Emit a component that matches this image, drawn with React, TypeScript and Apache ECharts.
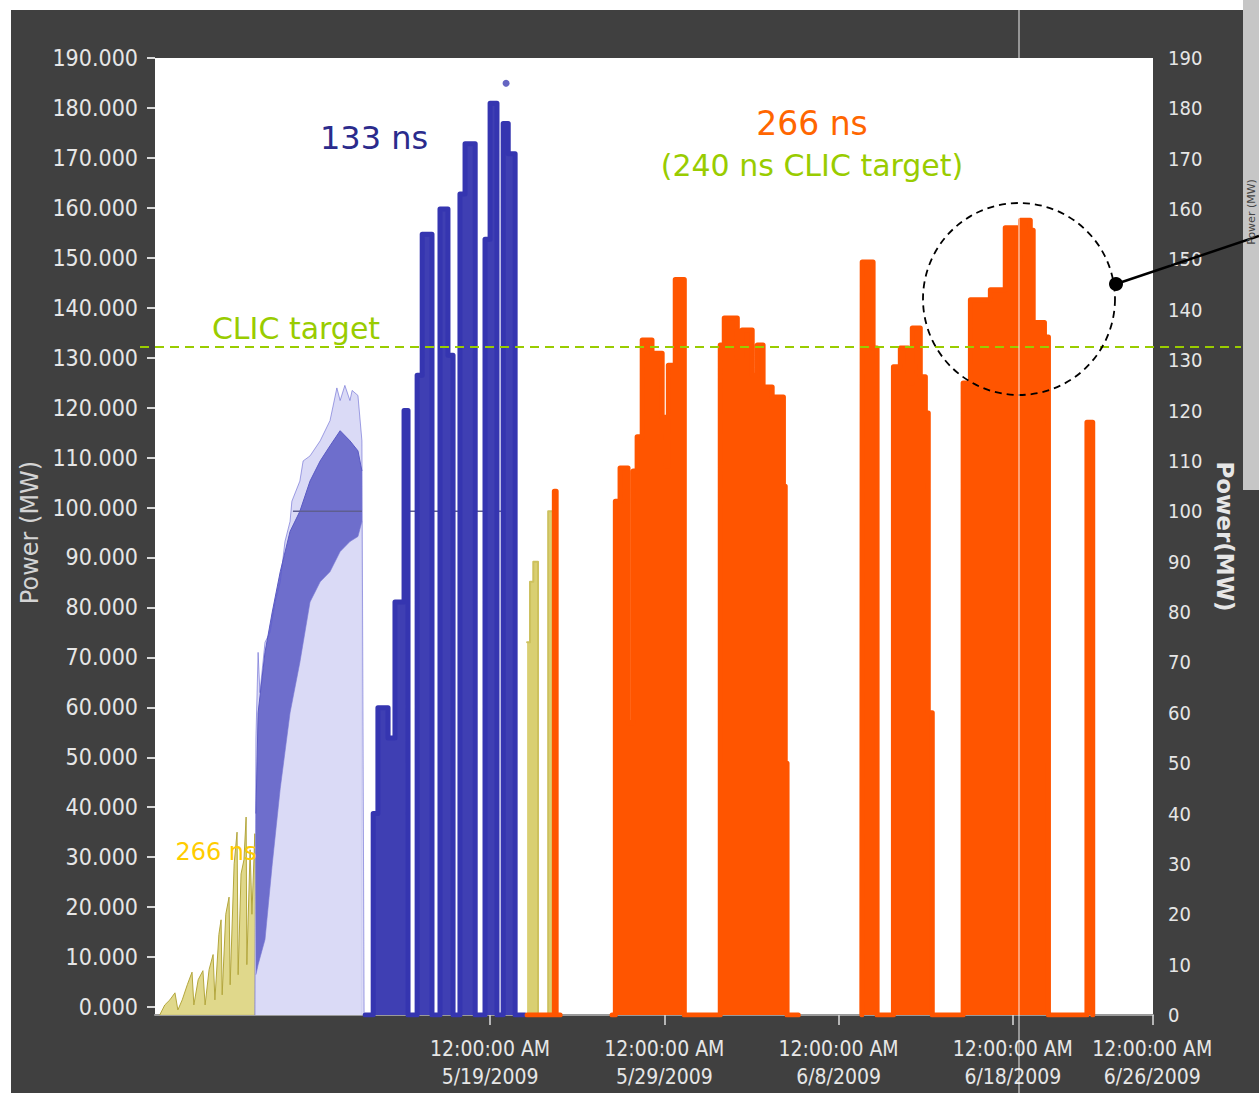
import React, { useEffect, useRef } from "react";
import * as echarts from "echarts";

const W = 1259;
const H = 1096;

// "M/D HH:MM" in 2009, local time
const ts = (s: string): number => {
  const [md, hm] = s.split(" ");
  const [m, d] = md.split("/").map(Number);
  const [h, mi] = hm.split(":").map(Number);
  return new Date(2009, m - 1, d, h, mi).getTime();
};

// Axis extents and ticks
const xStart = "4/29 18:30";
const xEnd = "6/26 01:00";
const dateTicks = ["5/19 00:00", "5/29 00:00", "6/8 00:00", "6/18 00:00", "6/26 00:00"];
const powerMin = 0;
const powerMax = 190;
const powerStep = 10;
const clicTarget = 132.6;

// 266 ns conditioning ramp (early)
const yellowEarly: [string, number][] = [
  ["4/30 01:00", 0], ["4/30 08:00", 2], ["4/30 15:00", 3], ["4/30 22:00", 4.4],
  ["5/1 02:00", 1], ["5/1 08:00", 3], ["5/1 15:00", 6], ["5/1 21:30", 8.5],
  ["5/2 00:00", 2], ["5/2 06:00", 7], ["5/2 12:30", 8.8], ["5/2 15:30", 2],
  ["5/2 21:00", 9], ["5/3 02:30", 12], ["5/3 05:00", 3], ["5/3 10:30", 16],
  ["5/3 13:30", 18.9], ["5/3 15:00", 4], ["5/3 20:00", 20], ["5/4 00:30", 23.4],
  ["5/4 02:00", 6], ["5/4 07:30", 30], ["5/4 11:30", 36.3], ["5/4 13:00", 8],
  ["5/4 17:00", 28], ["5/4 21:00", 30.8], ["5/5 00:00", 39.3], ["5/5 01:00", 10],
  ["5/5 05:30", 32.8], ["5/5 08:00", 20], ["5/5 12:00", 36], ["5/5 15:00", 0],
];

// 133 ns ramp: sparse envelope
const blueSparse: [string, number][] = [
  ["5/5 12:00", 0], ["5/5 13:30", 55], ["5/5 16:30", 72], ["5/5 19:00", 64],
  ["5/6 02:00", 74], ["5/6 09:00", 76], ["5/6 16:00", 82], ["5/6 23:00", 86],
  ["5/7 05:30", 94], ["5/7 12:30", 98], ["5/7 15:00", 102], ["5/8 02:00", 106],
  ["5/8 06:30", 110], ["5/8 16:00", 111], ["5/9 06:00", 114], ["5/9 19:30", 118],
  ["5/10 05:00", 124.5], ["5/10 09:30", 122], ["5/10 16:00", 125], ["5/10 23:00", 122],
  ["5/11 02:00", 124], ["5/11 10:00", 123], ["5/11 15:30", 114], ["5/11 18:30", 0],
];

// 133 ns ramp: dense core band (lower and upper edge)
const coreTimes = [
  "5/5 13:30", "5/5 16:30", "5/6 02:00", "5/6 12:00", "5/6 23:00", "5/7 12:30", "5/8 02:00",
  "5/8 16:00", "5/9 06:00", "5/9 19:30", "5/10 09:30", "5/10 23:00", "5/11 10:00", "5/11 15:30",
];
const coreLow = [8, 10, 15, 30, 45, 60, 70, 82, 86, 88, 92, 94, 95, 98];
const coreHigh = [40, 60, 72, 80, 88, 96, 100, 106, 110, 113, 116, 114, 112, 108];

// 100 MW setpoint trace
const setpoint: [string, number | null][] = [
  ["5/7 16:30", 100], ["5/11 15:30", 100], ["5/11 16:00", null],
  ["5/14 03:00", 100], ["5/20 10:30", 100],
];

// 133 ns operation
const blueRun: [string, number][] = [
  ["5/11 20:00", 0], ["5/12 07:00", 40], ["5/12 13:30", 61], ["5/13 03:30", 55],
  ["5/13 13:00", 82], ["5/14 01:30", 120], ["5/14 07:00", 0], ["5/14 19:30", 127],
  ["5/15 02:30", 155], ["5/15 16:00", 0], ["5/16 03:00", 160], ["5/16 14:00", 131],
  ["5/16 21:00", 0], ["5/17 06:30", 163], ["5/17 13:30", 173], ["5/18 03:30", 0],
  ["5/18 17:00", 154], ["5/19 00:00", 181], ["5/19 09:30", 0], ["5/19 18:00", 177],
  ["5/20 01:00", 171], ["5/20 10:30", 0], ["5/21 00:00", 0],
];
const blueOutliers: [string, number][] = [["5/19 22:00", 185]];

// 266 ns restart
const yellowLate: [string, number][] = [
  ["5/21 03:00", 74], ["5/21 07:00", 86], ["5/21 11:30", 90], ["5/21 18:00", 0],
  ["5/22 08:00", 100], ["5/22 16:00", 0],
];

// 266 ns operation
const orangeRun: [string, number | null][] = [
  ["5/21 03:00", 0], ["5/22 16:30", 104], ["5/22 19:00", 0], ["5/23 00:30", 0], ["5/23 01:00", null],
  ["5/26 00:00", 0], ["5/26 04:30", 102], ["5/26 11:00", 108.6], ["5/26 22:00", 58],
  ["5/27 05:00", 108], ["5/27 10:30", 114.8], ["5/27 17:30", 134], ["5/28 07:00", 131.4],
  ["5/28 21:00", 118.7], ["5/29 02:30", 109], ["5/29 05:30", 129], ["5/29 15:00", 146],
  ["5/30 03:30", 0],
  ["6/1 05:00", 133], ["6/1 10:30", 138.4], ["6/2 04:30", 130.6], ["6/2 11:00", 136],
  ["6/3 01:00", 127], ["6/3 08:00", 133], ["6/3 16:00", 124.7], ["6/4 04:30", 122.7],
  ["6/4 20:00", 105], ["6/4 22:30", 50], ["6/5 01:00", 0], ["6/5 16:30", 0], ["6/5 17:00", null],
  ["6/9 08:00", 0], ["6/9 08:30", 149.5], ["6/9 23:30", 132.4], ["6/10 05:00", 0],
  ["6/11 03:30", 128.7], ["6/11 13:00", 132.4], ["6/12 00:00", 125.5], ["6/12 05:30", 136.4],
  ["6/12 16:30", 126.7], ["6/12 23:30", 119.5], ["6/13 03:30", 60], ["6/13 09:00", 0],
  ["6/15 03:30", 125.5], ["6/15 13:30", 142], ["6/16 17:00", 144], ["6/17 13:30", 156.3],
  ["6/18 06:00", 150], ["6/18 10:30", 157.8], ["6/19 00:00", 155.8], ["6/19 04:00", 137.5],
  ["6/19 19:30", 134.6], ["6/20 01:00", 0],
  ["6/22 06:00", 117.7], ["6/22 14:00", 0],
];

const pts = (arr: [string, number | null][]) => arr.map(([t, v]) => [ts(t), v]);

const AXIS_FONT = '"DejaVu Sans Condensed", "DejaVu Sans", sans-serif';
const NOTE_FONT = '"DejaVu Sans", sans-serif';
const LABEL_COLOR = "#e6e6e6";
const SPARSE_FILL = "#dadaf6";

const pad = (n: number) => (n < 10 ? "0" + n : "" + n);
const fmtDate = (v: number) => {
  const d = new Date(v);
  const h = d.getHours();
  const h12 = h % 12 === 0 ? 12 : h % 12;
  const ap = h < 12 ? "AM" : "PM";
  return `${h12}:${pad(d.getMinutes())}:${pad(d.getSeconds())} ${ap}\n${d.getMonth() + 1}/${d.getDate()}/${d.getFullYear()}`;
};

const stepArea = (name: string, data: any[], fill: string, stroke: string, width: number, z: number) => ({
  type: "line",
  name,
  data,
  step: "end",
  symbol: "none",
  silent: true,
  z,
  itemStyle: { color: fill },
  lineStyle: { color: stroke, width, cap: "round", join: "round" },
  areaStyle: { color: fill, opacity: 1 },
});

const plainArea = (name: string, data: any[], fill: string, stroke: string, width: number, z: number) => ({
  type: "line",
  name,
  data,
  symbol: "none",
  silent: true,
  z,
  itemStyle: { color: fill },
  lineStyle: { color: stroke, width },
  areaStyle: { color: fill, opacity: 1 },
});

function buildOption(): any {
  return {
    animation: false,
    backgroundColor: "transparent",
    grid: [
      { left: 155, right: W - 1153, top: 58, bottom: H - 1015, show: true, backgroundColor: "#ffffff", borderWidth: 0 },
      { left: 155, right: W - 1153, top: 58, bottom: H - 1007, show: false },
    ],
    xAxis: [
      {
        type: "value",
        gridIndex: 0,
        min: ts(xStart),
        max: ts(xEnd),
        splitLine: { show: false },
        axisLine: { show: true, lineStyle: { color: "#9a9a9a", width: 2 } },
        axisTick: {
          show: true,
          customValues: dateTicks.map(ts),
          length: 10,
          lineStyle: { color: "#dddddd", width: 1.5 },
        },
        axisLabel: {
          customValues: dateTicks.map(ts),
          formatter: (v: number) => fmtDate(v),
          color: LABEL_COLOR,
          fontSize: 21,
          lineHeight: 28,
          fontFamily: AXIS_FONT,
          margin: 20,
        },
      },
      { type: "value", gridIndex: 1, min: 0, max: 1, show: false },
    ],
    yAxis: [
      {
        type: "value",
        gridIndex: 0,
        position: "right",
        min: powerMin,
        max: powerMax,
        interval: powerStep,
        splitLine: { show: false },
        axisLine: { show: false },
        axisTick: { show: false },
        axisLabel: { color: LABEL_COLOR, fontSize: 20, fontFamily: AXIS_FONT, margin: 15 },
        name: "Power(MW)",
        nameLocation: "middle",
        nameRotate: -90,
        nameGap: 58,
        nameTextStyle: { color: LABEL_COLOR, fontSize: 23, fontWeight: "bold", fontFamily: NOTE_FONT },
      },
      {
        type: "value",
        gridIndex: 1,
        position: "left",
        min: powerMin,
        max: powerMax,
        interval: powerStep,
        splitLine: { show: false },
        axisLine: { show: false },
        axisTick: { show: true, length: 8, lineStyle: { color: "#d8d8d8", width: 2 } },
        axisLabel: {
          formatter: (v: number) => v.toFixed(3),
          color: LABEL_COLOR,
          fontSize: 23,
          fontFamily: AXIS_FONT,
          margin: 17,
        },
        name: "Power (MW)",
        nameLocation: "middle",
        nameRotate: 90,
        nameGap: 111,
        nameTextStyle: { color: "#d4d4d4", fontSize: 24, fontFamily: NOTE_FONT },
      },
    ],
    series: [
      {
        type: "line",
        name: "266 ns ramp",
        data: pts(yellowEarly),
        symbol: "none",
        silent: true,
        z: 2,
        itemStyle: { color: "#d8ce76" },
        lineStyle: { color: "#b3a63c", width: 1 },
        areaStyle: { color: "#ddd47e", opacity: 0.9 },
      },
      plainArea("133 ns sparse", pts(blueSparse), SPARSE_FILL, "rgba(90,90,205,0.55)", 1, 3),
      // dense core: dark area up to the upper edge, then the sparse tint again below the lower edge
      plainArea("133 ns core", coreTimes.map((t, i) => [ts(t), coreHigh[i]]), "#6e6ecc", "#5a5ac4", 1, 3),
      plainArea("133 ns core floor", coreTimes.map((t, i) => [ts(t), coreLow[i]]), SPARSE_FILL, "rgba(120,120,210,0.6)", 1, 3),
      {
        type: "line",
        name: "setpoint",
        data: pts(setpoint),
        symbol: "none",
        silent: true,
        z: 4,
        lineStyle: { color: "#5e5e90", width: 1.5 },
      },
      stepArea("133 ns", pts(blueRun), "#3f3fb3", "#3535b0", 5, 5),
      {
        type: "scatter",
        name: "133 ns outliers",
        data: pts(blueOutliers),
        symbolSize: 7,
        silent: true,
        z: 5,
        itemStyle: { color: "#3f3fb3" },
      },
      stepArea("266 ns restart", pts(yellowLate), "#d9cf72", "#cdc15e", 2, 5),
      stepArea("266 ns", pts(orangeRun), "#ff5500", "#ff5500", 5, 6),
    ],
  };
}

function buildGraphic(yClic: number): any[] {
  const text = (x: number, y: number, s: string, fill: string, size: number) => ({
    type: "text",
    x,
    y,
    silent: true,
    z: 120,
    style: {
      text: s,
      fill,
      fontSize: size,
      fontFamily: NOTE_FONT,
      align: "center",
      verticalAlign: "middle",
    },
  });
  return [
    {
      type: "line",
      silent: true,
      z: 100,
      shape: { x1: 140, y1: yClic, x2: 1241, y2: yClic },
      style: { stroke: "#99cc00", lineWidth: 2, lineDash: [9, 6] },
    },
    text(374, 138, "133 ns", "#2b2b8c", 32),
    text(812, 123, "266 ns", "#ff6600", 33),
    text(812, 165, "(240 ns CLIC target)", "#99cc00", 30),
    text(296, 328, "CLIC target", "#99cc00", 30),
    text(216, 852, "266 ns", "#ffcc00", 24),
    {
      type: "circle",
      silent: true,
      z: 110,
      shape: { cx: 1019, cy: 299, r: 96 },
      style: { fill: "none", stroke: "#000000", lineWidth: 1.8, lineDash: [7, 5] },
    },
    {
      type: "line",
      silent: true,
      z: 110,
      shape: { x1: 1116, y1: 284, x2: 1259, y2: 236 },
      style: { stroke: "#000000", lineWidth: 2.5 },
    },
    {
      type: "circle",
      silent: true,
      z: 111,
      shape: { cx: 1116, cy: 284, r: 7 },
      style: { fill: "#000000" },
    },
    {
      type: "line",
      silent: true,
      z: 130,
      shape: { x1: 1019, y1: 10, x2: 1019, y2: 1093 },
      style: { stroke: "#ffffff", lineWidth: 1, opacity: 0.9 },
    },
    {
      type: "text",
      silent: true,
      z: 120,
      x: 1251,
      y: 212,
      rotation: Math.PI / 2,
      style: {
        text: "Power (MW)",
        fill: "#444444",
        fontSize: 11,
        fontFamily: NOTE_FONT,
        align: "center",
        verticalAlign: "middle",
      },
    },
  ];
}

export default function App() {
  const ref = useRef<HTMLDivElement>(null);
  useEffect(() => {
    if (!ref.current) return;
    const chart = echarts.init(ref.current, undefined, { renderer: "svg" });
    chart.setOption(buildOption());
    const yClic = chart.convertToPixel({ yAxisIndex: 0 }, clicTarget) as number;
    chart.setOption({ graphic: buildGraphic(yClic) });
    return () => chart.dispose();
  }, []);
  return (
    <div style={{ position: "absolute", left: 0, top: 0, width: W, height: H, background: "#ffffff", overflow: "hidden" }}>
      <div style={{ position: "absolute", left: 11, top: 10, width: 1232, height: 1083, background: "#404040" }} />
      <div style={{ position: "absolute", left: 1243, top: 0, width: 16, height: 490, background: "#c6c6c6" }} />
      <div style={{ position: "absolute", left: 1243, top: 490, width: 16, height: 603, background: "#404040" }} />
      <div ref={ref} style={{ position: "absolute", left: 0, top: 0, width: W, height: H }} />
    </div>
  );
}
